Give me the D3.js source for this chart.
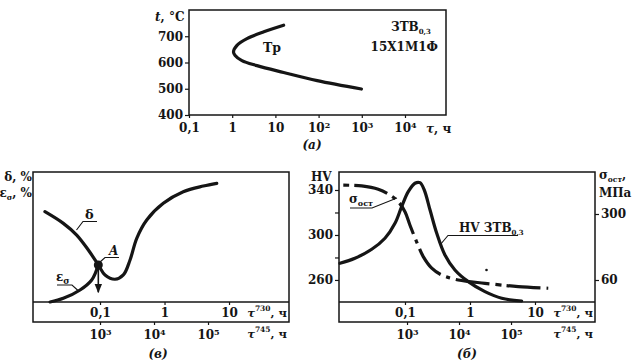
<!DOCTYPE html>
<html><head><meta charset="utf-8">
<script src="https://cdn.jsdelivr.net/npm/d3@7"></script>
<style>
body{margin:0;background:#fff}
svg text{font-family:"DejaVu Serif","Liberation Serif",serif;font-weight:bold;fill:#151515}
</style></head><body>
<svg id="c" width="639" height="362"></svg>
<script>
// ---------- Panel (а): temperature – time ----------
const tauA  = [15.5, 5.4, 2.2, 1.29, 1.07, 1.17, 1.68, 3.75, 15.5, 93, 980];
const tempA = [742, 717, 691, 665, 640, 627, 607, 588, 562, 531, 499];
const tempTicksA = [400, 500, 600, 700];
const tauTicksA  = [0.1, 1, 10, 100, 1000, 10000];

// ---------- Panel (в): δ and εσ ----------
const tauDelta = [0.0140, 0.0270, 0.0435, 0.0659, 0.0941, 0.1196, 0.171, 0.230, 0.292, 0.371, 0.530, 0.957, 1.95, 4.0, 6.45];
const delta    = [69.5, 60.5, 51.5, 40, 28.5, 20.8, 17.5, 20.8, 32.3, 49, 63.1, 75.9, 84.8, 89.2, 91.3];
const tauEps   = [0.0168, 0.027, 0.049, 0.0743, 0.0941];
const eps      = [0, 2.8, 9.2, 16.9, 28.5];
const tauTicks730 = [0.1, 1, 10];
const tauTicks745 = [1000, 10000, 100000];

// ---------- Panel (б): HV and σост ----------
const tauHV = [0.01, 0.017, 0.0308, 0.0492, 0.0702, 0.0889, 0.1124, 0.1425, 0.170, 0.198, 0.243, 0.308, 0.412, 0.587, 0.942, 1.70, 3.08, 6.24];
const hv    = [274.8, 279.3, 287.3, 297.1, 310.4, 325.2, 338.5, 346, 346.5, 340, 322.2, 301.5, 282.2, 268.9, 258.5, 249.6, 243.7, 241.3];
const tauSig = [0.01125, 0.0216, 0.0388, 0.0588, 0.0788, 0.1, 0.119, 0.151, 0.191, 0.258, 0.367, 0.661, 1.70, 5.53, 16.0];
const sig    = [405, 402, 390, 369, 345, 308, 260, 199, 145, 103, 78, 60, 48, 36, 30];
const hvTicks  = [260, 280, 300, 320, 340];
const sigTicks = [60, 300];

const svg = d3.select("#c");
const INK = "#151515";
const FS = 12;

function fmtTau(sel){
  sel.each(function(d){
    const t = d3.select(this); t.text(null);
    const e = Math.round(Math.log10(d));
    if (e < 0) t.text("0,1");
    else if (e <= 1) t.text(String(Math.round(d)));
    else { t.append("tspan").text("10"); t.append("tspan").attr("dy","-0.5em").attr("font-size","8px").text(e); }
  });
}
function styleAxis(g, fs){
  g.attr("font-size", fs).attr("font-family", null);
  g.select(".domain").remove();
  g.selectAll(".tick line").attr("stroke", INK).attr("stroke-width", 1.2);
}
function tauUnit(x, y, sup){
  const t = svg.append("text").attr("x", x).attr("y", y).attr("font-size", 11.5).attr("text-anchor","end");
  t.append("tspan").attr("font-style","italic").text("τ");
  t.append("tspan").attr("dy", -6).attr("font-size", 7.5).text(sup);
  t.append("tspan").attr("dy", 6).text(", ч");
}
function frame(x0, y0, x1, y1){
  svg.append("rect").attr("x", x0).attr("y", y0).attr("width", x1-x0).attr("height", y1-y0)
    .attr("fill","none").attr("stroke", INK).attr("stroke-width", 1.5);
}
const curve = d3.curveCatmullRom.alpha(0.5);

// ================= Panel (а) =================
const xA = d3.scaleLog().domain([0.1, 89000]).range([189, 446]);
const yA = d3.scaleLinear().domain([400, 800]).range([115, 10]);
frame(189, 10, 446, 115);
let g = svg.append("g").attr("transform","translate(189,0)")
  .call(d3.axisLeft(yA).tickValues(tempTicksA).tickSize(4).tickPadding(2));
styleAxis(g, FS);
g = svg.append("g").attr("transform","translate(0,115)")
  .call(d3.axisBottom(xA).tickValues(tauTicksA).tickSize(3).tickPadding(5));
styleAxis(g, FS); g.selectAll(".tick text").call(fmtTau);
svg.append("path").datum(d3.zip(tauA, tempA))
  .attr("d", d3.line().x(d=>xA(d[0])).y(d=>yA(d[1])).curve(curve))
  .attr("fill","none").attr("stroke", INK).attr("stroke-width", 3.2).attr("stroke-linecap","round");
let t = svg.append("text").attr("x", 155).attr("y", 21).attr("font-size", FS);
t.append("tspan").attr("font-style","italic").text("t"); t.append("tspan").text(", °C");
t = svg.append("text").attr("x", 426).attr("y", 133).attr("font-size", FS);
t.append("tspan").attr("font-style","italic").text("τ"); t.append("tspan").text(", ч");
svg.append("text").attr("x", 263).attr("y", 52).attr("font-size", 12.5).text("Тр");
t = svg.append("text").attr("x", 391).attr("y", 31).attr("font-size", FS);
t.append("tspan").text("ЗТВ"); t.append("tspan").attr("dy", 3).attr("font-size", 7).text("0,3");
svg.append("text").attr("x", 438).attr("y", 51).attr("text-anchor","end").attr("font-size", FS).text("15Х1М1Ф");
svg.append("text").attr("x", 312).attr("y", 149).attr("text-anchor","middle").attr("font-size", FS).attr("font-style","italic").text("(а)");

// ================= Panel (в) =================
const xV  = d3.scaleLog().domain([0.00914, 85.1]).range([33, 289]);
const xV2 = d3.scaleLog().domain([57.4, 3.16e6]).range([33, 289]);
const yV  = d3.scaleLinear().domain([0, 100]).range([302, 172]);
frame(33, 172, 289, 322);
svg.append("line").attr("x1",33).attr("x2",289).attr("y1",302).attr("y2",302).attr("stroke",INK).attr("stroke-width",1.5);
g = svg.append("g").attr("transform","translate(0,302)")
  .call(d3.axisBottom(xV).tickValues(tauTicks730).tickSize(3).tickPadding(3));
styleAxis(g, FS); g.selectAll(".tick text").call(fmtTau);
g = svg.append("g").attr("transform","translate(0,322)")
  .call(d3.axisBottom(xV2).tickValues(tauTicks745).tickSize(3).tickPadding(5));
styleAxis(g, FS); g.selectAll(".tick text").call(fmtTau);
tauUnit(287, 317, "730"); tauUnit(287, 338, "745");
const lineV = d3.line().x(d=>xV(d[0])).y(d=>yV(d[1])).curve(curve);
svg.append("path").datum(d3.zip(tauDelta, delta)).attr("d", lineV)
  .attr("fill","none").attr("stroke",INK).attr("stroke-width",3.2).attr("stroke-linecap","round");
svg.append("path").datum(d3.zip(tauEps, eps)).attr("d", lineV)
  .attr("fill","none").attr("stroke",INK).attr("stroke-width",3.2).attr("stroke-linecap","round");
// point A and arrow
const ax = xV(tauEps[tauEps.length-1]), ay = yV(eps[eps.length-1]);
svg.append("defs").append("marker").attr("id","arr").attr("viewBox","0 0 10 10").attr("refX",9).attr("refY",5)
  .attr("markerWidth",6).attr("markerHeight",8).attr("orient","auto")
  .append("path").attr("d","M0,1 L10,5 L0,9 Z").attr("fill",INK);
svg.append("line").attr("x1",ax).attr("y1",ay).attr("x2",ax).attr("y2",yV(7.5))
  .attr("stroke",INK).attr("stroke-width",1.6).attr("marker-end","url(#arr)");
svg.append("circle").attr("cx",ax).attr("cy",ay).attr("r",4.5).attr("fill",INK);
// labels
function leader(pts){ svg.append("path").attr("d", d3.line()(pts)).attr("fill","none").attr("stroke",INK).attr("stroke-width",1.1); }
svg.append("text").attr("x",85).attr("y",219).attr("font-size",13).text("δ");
leader([[97,221.5],[83,221.5],[76.5,230]]);
svg.append("text").attr("x",109).attr("y",255).attr("font-size",FS).attr("font-style","italic").text("A");
leader([[119,257.5],[105,257.5],[100,262]]);
t = svg.append("text").attr("x",56).attr("y",281).attr("font-size",FS);
t.append("tspan").text("ε"); t.append("tspan").attr("dy",3).attr("font-size",8.5).text("σ");
leader([[57,285],[72,285],[78,290.5]]);
svg.append("text").attr("x",32).attr("y",181).attr("text-anchor","end").attr("font-size",FS).text("δ, %");
t = svg.append("text").attr("x",32).attr("y",197).attr("text-anchor","end").attr("font-size",FS);
t.append("tspan").text("ε"); t.append("tspan").attr("dy",3).attr("font-size",7.5).text("σ"); t.append("tspan").attr("dy",-3).text(", %");
svg.append("text").attr("x",158).attr("y",358).attr("text-anchor","middle").attr("font-size",FS).attr("font-style","italic").text("(в)");

// ================= Panel (б) =================
const xB  = d3.scaleLog().domain([0.00966, 83.8]).range([339, 595]);
const xB2 = d3.scaleLog().domain([49.2, 4.12e6]).range([339, 595]);
const yHV = d3.scaleLinear().domain([240.4, 356]).range([302, 172]);
const ySg = d3.scaleLinear().domain([-20, 452.7]).range([302, 172]);
frame(339, 172, 595, 322);
svg.append("line").attr("x1",339).attr("x2",595).attr("y1",302).attr("y2",302).attr("stroke",INK).attr("stroke-width",1.5);
g = svg.append("g").attr("transform","translate(0,302)")
  .call(d3.axisBottom(xB).tickValues(tauTicks730).tickSize(3).tickPadding(3));
styleAxis(g, FS); g.selectAll(".tick text").call(fmtTau);
g = svg.append("g").attr("transform","translate(0,322)")
  .call(d3.axisBottom(xB2).tickValues(tauTicks745).tickSize(3).tickPadding(5));
styleAxis(g, FS); g.selectAll(".tick text").call(fmtTau);
tauUnit(593, 317, "730"); tauUnit(593, 338, "745");
g = svg.append("g").attr("transform","translate(339,0)")
  .call(d3.axisLeft(yHV).tickValues(hvTicks).tickSize(4).tickPadding(2).tickFormat(d => (d-260)%40===0 ? d : ""));
styleAxis(g, FS);
g = svg.append("g").attr("transform","translate(595,0)")
  .call(d3.axisRight(ySg).tickValues(sigTicks).tickSize(4).tickPadding(2));
styleAxis(g, FS);
svg.append("path").datum(d3.zip(tauHV, hv))
  .attr("d", d3.line().x(d=>xB(d[0])).y(d=>yHV(d[1])).curve(curve))
  .attr("fill","none").attr("stroke",INK).attr("stroke-width",3.2).attr("stroke-linecap","round");
svg.append("path").datum(d3.zip(tauSig, sig))
  .attr("d", d3.line().x(d=>xB(d[0])).y(d=>ySg(d[1])).curve(curve))
  .attr("fill","none").attr("stroke",INK).attr("stroke-width",3.2)
  .attr("stroke-dasharray","6,5,34,6,4,6,34,6,4,6,34,6,4,6,34,6");
svg.append("circle").attr("cx",486.5).attr("cy",270).attr("r",1.3).attr("fill",INK);
// labels
t = svg.append("text").attr("x",349).attr("y",203).attr("font-size",FS);
t.append("tspan").text("σ"); t.append("tspan").attr("dy",3).attr("font-size",8).text("ост");
leader([[350,208],[372,208],[397,198]]);
t = svg.append("text").attr("x",459).attr("y",232).attr("font-size",FS);
t.append("tspan").text("HV ЗТВ"); t.append("tspan").attr("dy",3).attr("font-size",7).text("0,3");
leader([[518,235.5],[448,235.5],[440,245]]);
svg.append("text").attr("x",311).attr("y",181).attr("font-size",FS).text("HV");
t = svg.append("text").attr("x",599).attr("y",179).attr("font-size",FS);
t.append("tspan").text("σ"); t.append("tspan").attr("dy",3).attr("font-size",7.5).text("ост"); t.append("tspan").attr("dy",-3).text(",");
svg.append("text").attr("x",599).attr("y",197).attr("font-size",FS).text("МПа");
svg.append("text").attr("x",467).attr("y",358).attr("text-anchor","middle").attr("font-size",FS).attr("font-style","italic").text("(б)");
</script></body></html>
